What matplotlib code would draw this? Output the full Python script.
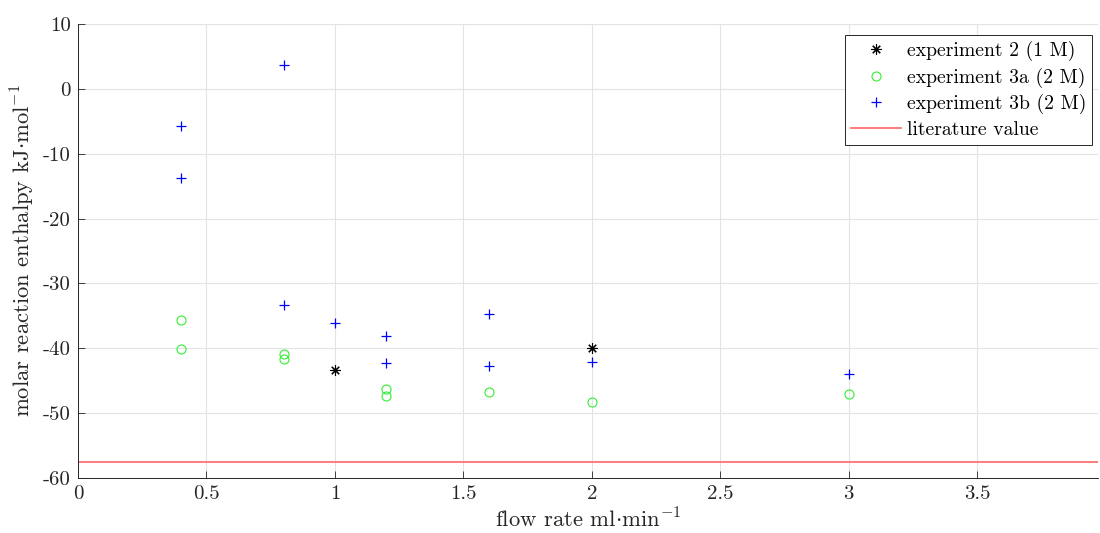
import matplotlib
matplotlib.use("Agg")
import matplotlib.pyplot as plt

# --- data ---
exp2_flow = [1.0, 2.0]
exp2_dh = [-43.4, -40.0]

exp3a_flow = [0.4, 0.4, 0.8, 0.8, 1.2, 1.2, 1.6, 2.0, 3.0]
exp3a_dh = [-35.6, -40.1, -40.9, -41.7, -46.3, -47.4, -46.8, -48.3, -47.1]

exp3b_flow = [0.4, 0.4, 0.8, 0.8, 1.0, 1.2, 1.2, 1.6, 1.6, 2.0, 3.0]
exp3b_dh = [-5.7, -13.7, 3.7, -33.3, -36.1, -38.1, -42.3, -34.7, -42.7, -42.1, -44.0]

literature_dh = -57.6

xticks = [0, 0.5, 1, 1.5, 2, 2.5, 3, 3.5]
yticks = [-60, -50, -40, -30, -20, -10, 0, 10]

plt.rcParams.update({
    'font.family': 'cmr10',
    'mathtext.fontset': 'cm',
    'axes.unicode_minus': False,
    'font.size': 14,
})

fig = plt.figure(figsize=(11, 5.33), dpi=100)
ax = fig.add_axes([0.0709, 0.1032, 0.9273, 0.8518])

ax.plot(exp2_flow, exp2_dh, linestyle='none', marker=(8, 2, 0), color='black',
        markersize=7.5, markeredgewidth=0.8, label='experiment 2 (1 M)')
ax.plot(exp3a_flow, exp3a_dh, linestyle='none', marker='o', markerfacecolor='none',
        markeredgecolor='#33ee33', markersize=6.5, markeredgewidth=0.8, label='experiment 3a (2 M)')
ax.plot(exp3b_flow, exp3b_dh, linestyle='none', marker='+', color='blue',
        markersize=6.5, markeredgewidth=0.9, label='experiment 3b (2 M)')
ax.axhline(literature_dh, color='#ff6666', linewidth=1.2, label='literature value')

ax.set_xlim(0, 3.97)
ax.set_ylim(-60, 10)
ax.set_xticks(xticks)
ax.set_xticklabels(['0', '0.5', '1', '1.5', '2', '2.5', '3', '3.5'])
ax.set_yticks(yticks)
ax.tick_params(direction='in', length=5, width=0.6, colors='#262626', labelsize=15,
               labelcolor='#262626', pad=5)
ax.grid(True, color='#e3e3e3', linewidth=0.8)
ax.set_axisbelow(True)
for side in ['top', 'right']:
    ax.spines[side].set_visible(False)
for side in ['left', 'bottom']:
    ax.spines[side].set_color('#262626')
    ax.spines[side].set_linewidth(0.7)

ax.set_xlabel(r'flow rate ml$\cdot$min$^{-1}$', fontsize=16.3, color='#262626', labelpad=3)
ax.set_ylabel(r'molar reaction enthalpy kJ$\cdot$mol$^{-1}$', fontsize=16.3, color='#262626', labelpad=4)

leg = ax.legend(loc='upper right', fontsize=14.2, fancybox=False, framealpha=1,
                edgecolor='#262626', bbox_to_anchor=(0.994, 0.976), borderaxespad=0,
                handlelength=2.5, labelspacing=0.33, borderpad=0.3, handletextpad=0.3)
leg.get_frame().set_linewidth(0.7)

fig.savefig('out.png', dpi=100)
